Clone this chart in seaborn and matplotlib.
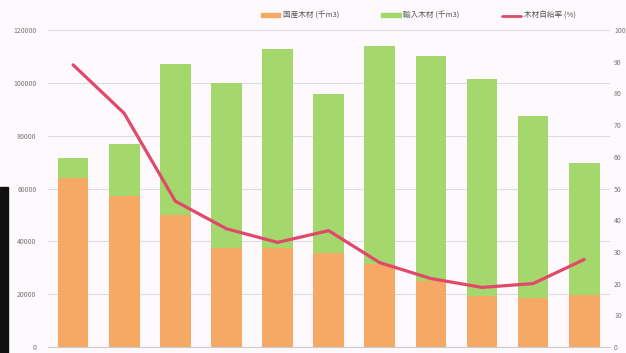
import pandas as pd
import matplotlib.pyplot as plt
import seaborn as sns
from matplotlib.patches import Patch, Rectangle
from matplotlib.lines import Line2D

# Data (thousand m3 / percent)
years = ['1960', '1965', '1970', '1975', '1980', '1985', '1990', '1995', '2000', '2005', '2010']
domestic = [64000, 57200, 50000, 37500, 37500, 35600, 31400, 25000, 19300, 18500, 19700]
total = [71500, 77000, 107200, 100000, 112900, 95800, 114000, 110200, 101500, 87500, 69700]
self_rate = [89.0, 73.7, 46.0, 37.3, 33.0, 36.7, 26.6, 21.6, 18.8, 20.0, 27.6]

labels = ['国産木材 (千m3)', '輸入木材 (千m3)', '木材自給率 (%)']
orange = '#F5A965'
green = '#A5D86C'
red = '#E0496A'

df = pd.DataFrame({'year': years, 'domestic': domestic, 'total': total, 'rate': self_rate})

sns.set_style('white')
plt.rcParams['font.family'] = ['Noto Sans CJK JP', 'DejaVu Sans']

fig = plt.figure(figsize=(6.26, 3.53), dpi=100)
fig.patch.set_facecolor('#FDF9FC')
ax = fig.add_axes([0.076, 0.017, 0.898, 0.898])
ax.set_facecolor('#FDF9FC')

# stacked bars: total (green) with domestic (orange) on top of it
sns.barplot(data=df, x='year', y='total', color=green, width=0.6, saturation=1,
            linewidth=0, ax=ax)
sns.barplot(data=df, x='year', y='domestic', color=orange, width=0.6, saturation=1,
            linewidth=0, ax=ax)

ax.set_ylim(0, 120000)
ax.set_yticks(range(0, 120001, 20000))
ax.yaxis.grid(True, color='#DDDDE4', linewidth=0.8)
ax.set_axisbelow(True)
ax.set_xlabel('')
ax.set_ylabel('')
ax.set_xticklabels([])
ax.tick_params(axis='both', length=0, labelsize=5, colors='#777777', pad=8)
for s in ['top', 'left', 'right']:
    ax.spines[s].set_visible(False)
ax.spines['bottom'].set_color('#CCCCCC')

ax2 = ax.twinx()
sns.pointplot(data=df, x='year', y='rate', color=red, markers='', linewidth=2.3, ax=ax2)
ax2.set_ylim(0, 100)
ax2.set_yticks(range(0, 101, 10))
ax2.set_ylabel('')
ax2.tick_params(axis='y', length=0, labelsize=5, colors='#777777', pad=3)
for s in ['top', 'left', 'right', 'bottom']:
    ax2.spines[s].set_visible(False)

handles = [Patch(color=orange), Patch(color=green), Line2D([], [], color=red, linewidth=2)]
fig.legend(handles, labels, loc='center', bbox_to_anchor=(0.668, 0.955), ncol=3,
           frameon=False, fontsize=5.5, handlelength=2.6, handleheight=0.4,
           handletextpad=0.3, columnspacing=5.5, labelcolor='#555555')

# dark strip on the left edge of the screenshot
fig.patches.append(Rectangle((0, 0), 0.012, 0.47, transform=fig.transFigure,
                             color='#111111', zorder=0))

fig.savefig('out.png', dpi=100, facecolor=fig.get_facecolor())
